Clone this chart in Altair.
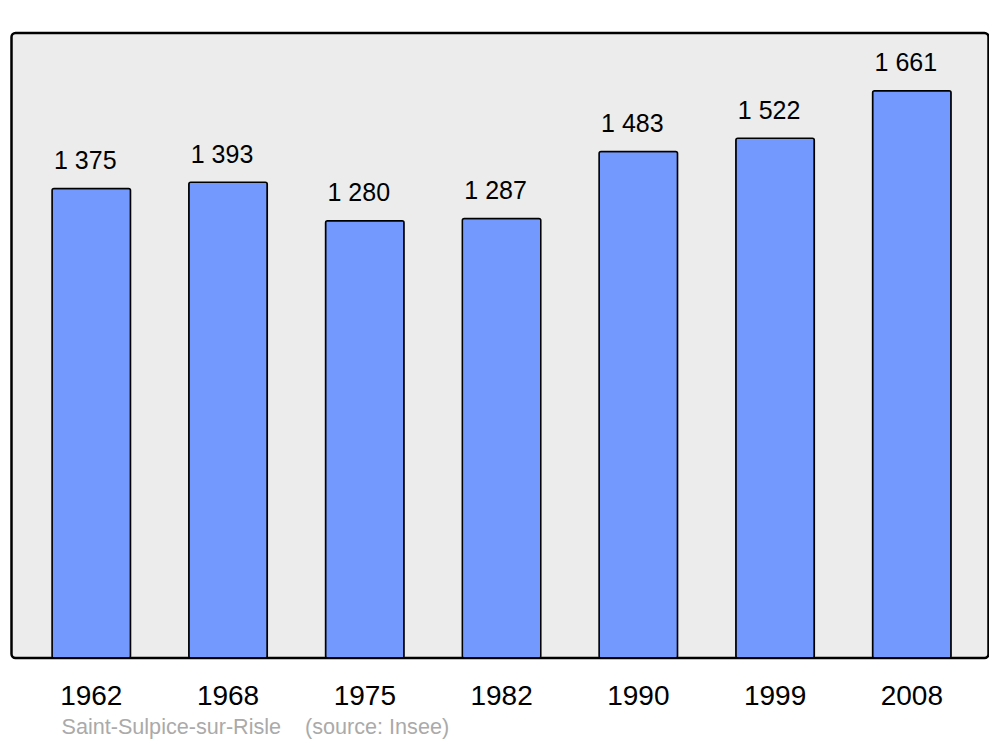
import altair as alt
import pandas as pd

years = ["1962", "1968", "1975", "1982", "1990", "1999", "2008"]
population = [1375, 1393, 1280, 1287, 1483, 1522, 1661]
value_labels = [f"{v:,}".replace(",", " ") for v in population]
source_text = "Saint-Sulpice-sur-Risle\u00a0\u00a0\u00a0\u00a0(source: Insee)"

df = pd.DataFrame({"year": years, "pop": population, "label": value_labels})

FONT = "Liberation Sans"

x = alt.X(
    "year:N",
    sort=years,
    scale=alt.Scale(paddingInner=0.426, paddingOuter=0.285, align=0.52),
    axis=alt.Axis(
        title=None,
        domain=False,
        ticks=False,
        grid=False,
        labelAngle=0,
        labelFont=FONT,
        labelFontSize=28,
        labelColor="black",
        labelBaseline="alphabetic",
        labelPadding=46,
    ),
)
y = alt.Y("pop:Q", scale=alt.Scale(domain=[0, 1830], nice=False, zero=True), axis=None)

bars = alt.Chart(df).mark_bar(
    color="#7399ff",
    stroke="black",
    strokeWidth=1.5,
    cornerRadius=2,
).encode(x=x, y=y)

texts = alt.Chart(df).mark_text(
    font=FONT,
    fontSize=25,
    color="black",
    baseline="alphabetic",
    align="center",
    dy=-19.5,
    dx=-6,
).encode(x=x, y=y, text="label:N")

chart = (
    alt.layer(bars, texts)
    .properties(
        width=977,
        height=625,
        autosize=alt.AutoSizeParams(type="none"),
        padding={"left": 3.5, "top": 25, "right": 0, "bottom": 81},
        background="white",
        title=alt.TitleParams(
            text=source_text,
            orient="bottom",
            anchor="start",
            font=FONT,
            fontSize=21.6,
            fontWeight="normal",
            color="#aaaaaa",
            baseline="alphabetic",
            dx=50,
            offset=24,
        ),
    )
    .configure_view(
        fill="#ececec",
        stroke="black",
        strokeWidth=2.5,
        cornerRadius=4,
    )
)

chart.save("out.html", embed_options={"renderer": "svg", "actions": False})
